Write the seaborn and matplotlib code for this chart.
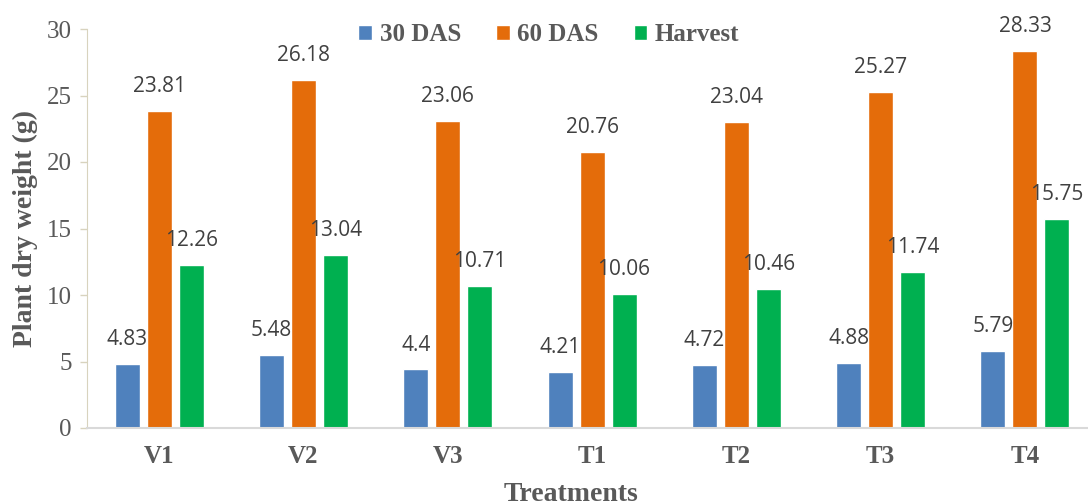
import matplotlib
matplotlib.use("Agg")
import matplotlib.pyplot as plt
import seaborn as sns
import pandas as pd

treatments = ["V1", "V2", "V3", "T1", "T2", "T3", "T4"]
das30 = [4.83, 5.48, 4.4, 4.21, 4.72, 4.88, 5.79]
das60 = [23.81, 26.18, 23.06, 20.76, 23.04, 25.27, 28.33]
harvest = [12.26, 13.04, 10.71, 10.06, 10.46, 11.74, 15.75]
series = ["30 DAS", "60 DAS", "Harvest"]
colors = ["#4F81BD", "#E46C0A", "#00B050"]

df = pd.DataFrame({"Treatment": treatments * 3,
                   "Series": [s for s in series for _ in treatments],
                   "Value": das30 + das60 + harvest})

sns.set_style("white")
plt.rcParams['font.family'] = ['Liberation Serif', 'DejaVu Serif']

fig = plt.figure(figsize=(10.88, 5.04), dpi=100)
ax = fig.add_axes([87 / 1088, 1 - 428 / 504, 1 - 87 / 1088, 399 / 504])

sns.barplot(data=df, x="Treatment", y="Value", hue="Series", palette=colors,
            width=0.665, gap=0.22, ax=ax, legend=True, saturation=1)

for cont in ax.containers:
    ax.bar_label(cont, labels=[f"{v:g}" for v in cont.datavalues], padding=10,
                 fontsize=15, color="#404040", family="Open Sans")

ax.set_xlim(-0.5, -0.5 + (1088 - 87) / 144.3)
ax.set_ylim(0, 30)
ax.set_yticks(range(0, 31, 5))
ax.tick_params(axis="y", labelsize=18, colors="#595959", length=5, width=1, direction="out", left=True, pad=6)
ax.tick_params(axis="y", color="#D8D3BE")
ax.tick_params(axis="x", length=0, pad=12)
for lab in ax.get_xticklabels():
    lab.set_fontweight("bold")
    lab.set_fontsize(18)
    lab.set_color("#595959")
for s in ["top", "right"]:
    ax.spines[s].set_visible(False)
ax.spines["left"].set_color("#D8D3BE")
ax.spines["bottom"].set_color("#D9D9D9")
ax.spines["bottom"].set_linewidth(1.5)

ax.set_ylabel("Plant dry weight (g)", fontsize=20, fontweight="bold", color="#595959", labelpad=6)
ax.set_xlabel("Treatments", fontsize=20, fontweight="bold", color="#595959")
ax.xaxis.set_label_coords(0.4835, -0.135)

ax.legend(loc="center", bbox_to_anchor=(0.4615, 0.985), ncol=3, frameon=False,
          prop={"weight": "bold", "size": 18}, labelcolor="#595959",
          handlelength=0.55, handleheight=0.55, handletextpad=0.3, columnspacing=1.4)

fig.savefig("out.png", dpi=100)
